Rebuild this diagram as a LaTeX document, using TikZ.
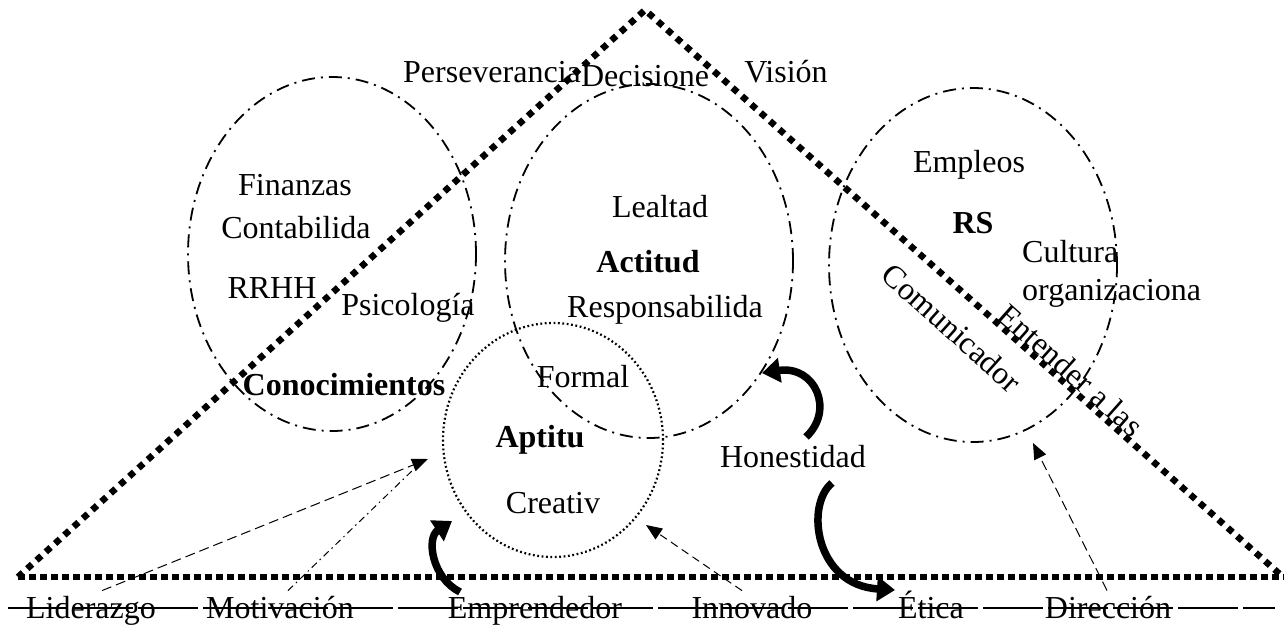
\documentclass[tikz,border=0pt]{standalone}
\usepackage{fontspec}
\setmainfont{Liberation Serif}
\usetikzlibrary{arrows.meta,shapes.geometric}
\begin{document}
\begin{tikzpicture}[x=1pt,y=-1pt,
  every node/.style={font=\fontsize{32}{38}\selectfont, inner sep=0pt},
  lbl/.style={anchor=base},
  bold/.style={anchor=base, font=\fontsize{32}{38}\selectfont\bfseries},
  dashdot/.style={draw, ellipse, line width=1.8pt, dash pattern=on 13pt off 6pt on 2pt off 6pt, minimum width=288pt, minimum height=354pt},
  aptcirc/.style={draw, ellipse, line width=2.2pt, dash pattern=on 1.8pt off 2.6pt, minimum width=220pt, minimum height=234pt},
  basedots/.style={line width=6.5pt, dash pattern=on 6.5pt off 4.5pt},
  sidedots/.style={line width=6.5pt, dash pattern=on 6.5pt off 6pt},
  strike/.style={line width=1.2pt, dash pattern=on 60pt off 5pt},
  thinarrow/.style={line width=1pt, -{Triangle[length=16pt,width=13pt]}},
  fatarrow/.style={line width=7.5pt, -{Triangle[length=18pt,width=24pt]}}
]
\fill[white] (0,0) rectangle (1284,627);
\useasboundingbox (0,0) rectangle (1284,627);

% triangle
\coordinate (apex) at (645,10);
\coordinate (bl) at (18,577);
\coordinate (br) at (1283,577);
\coordinate (be) at (1284,577);
\draw[sidedots] (bl) -- (apex) -- (br);
\draw[basedots] (bl) -- (be);

% ellipses
\node[dashdot] (con) at (332,254) {};
\node[dashdot] (act) at (649,261) {};
\node[dashdot] (rs) at (973,265) {};
\node[aptcirc] (apt) at (553,440) {};

% texts
\node[lbl] (pers) at (492,82) {Perseverancia};
\node[lbl] (deci) at (645,86) {Decisione};
\node[lbl] (vis) at (786,82) {Visión};
\node[lbl] (fin) at (295,195) {Finanzas};
\node[lbl] (cont) at (296,238) {Contabilida};
\node[lbl] (rrhh) at (272,298) {RRHH};
\node[lbl] (psi) at (408,315) {Psicología};
\node[bold] (conT) at (344,395) {Conocimientos};
\node[lbl] (leal) at (660,217) {Lealtad};
\node[bold] (actT) at (648,272) {Actitud};
\node[lbl] (resp) at (665,317) {Responsabilida};
\node[lbl] (form) at (583,387) {Formal};
\node[bold] (aptT) at (540,447) {Aptitu};
\node[lbl] (crea) at (553,513) {Creativ};
\node[lbl] (emp) at (969,172) {Empleos};
\node[bold] (rsT) at (973,233) {RS};
\node[anchor=base west] (cul) at (1022,262) {Cultura};
\node[anchor=base west] (org) at (1022,300) {organizaciona};
\node[rotate=-42] (com) at (952,328) {Comunicador};
\node[rotate=-41.6] (ent) at (1071,370) {Entender a las};
\node[lbl] (hon) at (793,467) {Honestidad};

% bottom labels
\node[lbl] (lid) at (91,618) {Liderazgo};
\node[lbl] (mot) at (280,618) {Motivación};
\node[lbl] (empr) at (535,618) {Emprendedor};
\node[lbl] (inn) at (752,618) {Innovado};
\node[lbl] (eti) at (931,618) {Ética};
\node[lbl] (dir) at (1108,618) {Dirección};

% strike line
\coordinate (s1) at (8,608);
\coordinate (s2) at (1275,608);
\draw[strike] (s1) -- (s2);

% thin arrows
\coordinate (t1) at (428,459);
\coordinate (m1) at (416,467);
\coordinate (t3) at (646,525);
\coordinate (t4) at (1033,443);
\draw[thinarrow, dash pattern=on 10pt off 5pt] ([xshift=11pt,yshift=5pt]lid.north) -- (t1);
\draw[line width=1pt, dash pattern=on 7pt off 4pt on 1.5pt off 4pt] ([xshift=8pt,yshift=5pt]mot.north) -- (m1);
\draw[thinarrow, dash pattern=on 8pt off 5pt] ([xshift=-10pt,yshift=5pt]inn.north) -- (t3);
\draw[thinarrow, dash pattern=on 10pt off 5pt] ([xshift=-1pt,yshift=5pt]dir.north) -- (t4);

% fat curved arrows
\coordinate (e0) at (460,592);
\coordinate (e1) at (452,521);
\draw[fatarrow] (e0) .. controls (432,578) and (426,538) .. (e1);
\coordinate (h0) at (806,437);
\coordinate (h1) at (762,373);
\draw[fatarrow] (h0) .. controls (835,410) and (815,365) .. (h1);
\coordinate (g0) at (832,483);
\coordinate (g1) at (895,590);
\draw[fatarrow] (g0) .. controls (805,505) and (815,585) .. (g1);
\end{tikzpicture}
\end{document}
